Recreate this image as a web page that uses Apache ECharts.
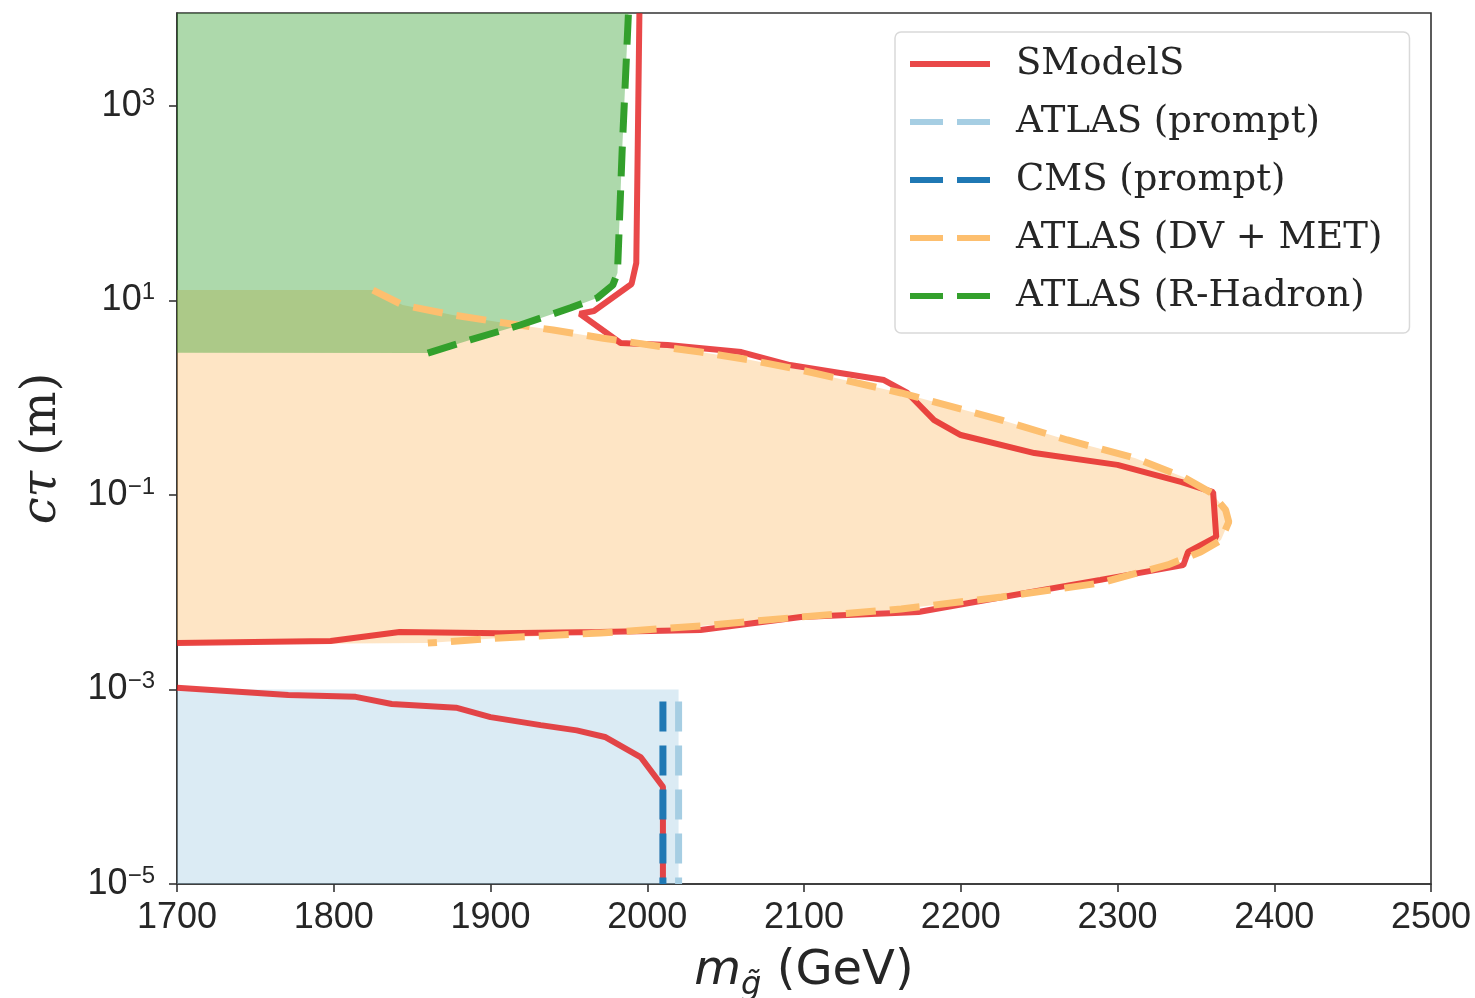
<!DOCTYPE html>
<html>
<head>
<meta charset="utf-8">
<title>Gluino lifetime limits</title>
<script src="https://cdn.jsdelivr.net/npm/echarts@6.0.0/dist/echarts.min.js"></script>
<style>
  html, body { margin: 0; padding: 0; background: #fff; }
  #chart { width: 1475px; height: 998px; }
</style>
</head>
<body>
<div id="chart"></div>
<script>
// ---- data (mass in GeV, c*tau in m) ----
var smodelsUpperMass = [1995, 1993, 1990, 1966, 1957, 1983, 2013, 2060, 2091, 2151, 2166, 2183, 2200, 2247, 2300, 2341, 2361, 2363, 2345, 2342, 2289, 2226, 2173, 2098, 2034, 1970, 1906, 1842, 1798, 1700];
var smodelsUpperCt   = [9000, 24.3, 14.8, 7.8, 7.3, 3.66, 3.49, 2.95, 2.17, 1.52, 1.12, 0.59, 0.414, 0.27, 0.204, 0.136, 0.107, 0.037, 0.026, 0.019, 0.0134, 0.0089, 0.00627, 0.00557, 0.0041, 0.0039, 0.0038, 0.0039, 0.00316, 0.0030];

var smodelsLowerMass = [1700, 1771, 1814, 1837, 1878, 1900, 1932, 1955, 1973, 1996, 2010, 2010];
var smodelsLowerCt   = [1.04e-3, 8.8e-4, 8.4e-4, 7.1e-4, 6.5e-4, 5.2e-4, 4.3e-4, 3.8e-4, 3.25e-4, 2.0e-4, 1.0e-4, 1e-5];

var atlasPromptMass = [2020, 2020];
var atlasPromptCt   = [1e-3, 1e-5];
var cmsPromptMass   = [2010, 2010];
var cmsPromptCt     = [1e-3, 1e-5];

var dvMetMass = [1825, 1844, 1876, 1908, 1940, 1972, 2015, 2034, 2066, 2098, 2162, 2226, 2268, 2311, 2342, 2360, 2369, 2371, 2366, 2353, 2332, 2289, 2226, 2162, 2098, 2034, 1970, 1906, 1860];
var dvMetCt   = [12.8, 9.0, 7.1, 5.9, 4.97, 4.1, 3.25, 2.95, 2.44, 1.93, 1.12, 0.59, 0.368, 0.24, 0.153, 0.105, 0.070, 0.053, 0.0344, 0.0259, 0.0191, 0.01245, 0.00893, 0.00673, 0.00557, 0.0045, 0.00381, 0.00339, 0.0030];

var rHadronMass = [1860, 1887, 1919, 1951, 1968, 1978, 1981, 1984, 1988];
var rHadronCt   = [2.88, 3.93, 5.6, 8.4, 10.6, 14.4, 19.2, 352, 9000];

// excluded areas (closed outlines)
var atlasPromptAreaMass = [1700, 2020, 2020, 1700];
var atlasPromptAreaCt   = [1e-5, 1e-5, 1e-3, 1e-3];
var dvMetAreaMass = [1700].concat(dvMetMass, [1700]);
var dvMetAreaCt   = [12.8].concat(dvMetCt, [0.0029]);
var rHadronAreaMass = [1700].concat(rHadronMass, [1700]);
var rHadronAreaCt   = [2.9].concat(rHadronCt, [9000]);

var legendNames = ['SModelS', 'ATLAS (prompt)', 'CMS (prompt)', 'ATLAS (DV + MET)', 'ATLAS (R-Hadron)'];
var yTickExps = [-5, -3, -1, 1, 3];
var CT_MAX = 9050;

var myChart = echarts.init(document.getElementById('chart'));

function pts(mass, ct) {
    return mass.map(function (m, i) { return [m, Math.log10(ct[i])]; });
}

function area(mass, ct, color) {
    var d = pts(mass, ct);
    return {
        type: 'custom',
        silent: true,
        z: 1,
        data: d,
        renderItem: function (params, api) {
            if (params.dataIndex !== 0) return;
            return {
                type: 'polygon',
                shape: { points: d.map(function (p) { return api.coord(p); }) },
                style: { fill: color }
            };
        }
    };
}

function line(name, mass, ct, color, type, z, offset) {
    return {
        name: name,
        type: 'line',
        data: pts(mass, ct),
        symbol: 'none',
        z: z,
        lineStyle: { color: color, width: type === 'solid' ? 6 : 7, type: type, dashOffset: offset || 0 },
        itemStyle: { color: color }
    };
}

var DASH = [30, 14];
var legendItems = legendNames.map(function (n, i) {
    return { name: n, lineStyle: { width: 6, type: i === 0 ? 'solid' : [33, 14], dashOffset: 0 } };
});

var option = {
    animation: false,
    backgroundColor: '#fff',
    grid: {
        left: 177, right: 44, top: 13, bottom: 114,
        outerBoundsMode: 'none',
        show: true, borderColor: '#333', borderWidth: 1.6, backgroundColor: '#fff'
    },
    legend: {
        data: legendItems,
        orient: 'vertical',
        left: 895, top: 32,
        padding: [10, 27, 15, 12],
        itemGap: 14,
        itemWidth: 80,
        itemHeight: 14,
        itemStyle: { opacity: 0 },
        backgroundColor: 'rgba(255,255,255,0.8)',
        borderColor: '#d9d9d9',
        borderWidth: 1.5,
        borderRadius: 6,
        textStyle: {
            fontFamily: 'DejaVu Serif', fontSize: 37, color: '#262626',
            lineHeight: 44, padding: [0, 0, 0, 21]
        }
    },
    xAxis: {
        type: 'value',
        min: 1700, max: 2500, interval: 100,
        splitLine: { show: false },
        axisLine: { onZero: false, lineStyle: { color: '#333', width: 1.6 } },
        axisTick: { length: 8, lineStyle: { color: '#333', width: 1.6 } },
        axisLabel: {
            fontFamily: 'Liberation Sans', fontSize: 36, color: '#262626', margin: 16,
            formatter: function (v) { return String(v); }
        },
        name: '{m|m}{g|g\u0303}{t| (GeV)}',
        nameLocation: 'middle',
        nameGap: 58,
        nameTextStyle: {
            rich: {
                m: { fontFamily: 'DejaVu Sans', fontStyle: 'italic', fontSize: 48, lineHeight: 60, color: '#262626' },
                g: { fontFamily: 'DejaVu Sans', fontStyle: 'italic', fontSize: 32, lineHeight: 38, verticalAlign: 'bottom', color: '#262626' },
                t: { fontFamily: 'DejaVu Sans', fontSize: 48, lineHeight: 60, color: '#262626' }
            }
        }
    },
    yAxis: {
        type: 'value',
        min: -5, max: Math.log10(CT_MAX),
        splitLine: { show: false },
        axisLine: { onZero: false, lineStyle: { color: '#333', width: 1.6 } },
        axisTick: { length: 8, customValues: yTickExps, lineStyle: { color: '#333', width: 1.6 } },
        axisLabel: {
            customValues: yTickExps,
            margin: 22,
            formatter: function (v) {
                var e = String(Math.round(v)).replace('-', '\u2212');
                return '{b|10}{s|' + e + '}';
            },
            rich: {
                b: { fontFamily: 'Liberation Sans', fontSize: 36, lineHeight: 40, color: '#262626' },
                s: { fontFamily: 'Liberation Sans', fontSize: 24, lineHeight: 26, verticalAlign: 'top', color: '#262626' }
            }
        },
        name: '{i|c\u03c4}{r| (m)}',
        nameLocation: 'middle',
        nameGap: 110,
        nameTextStyle: {
            rich: {
                i: { fontFamily: 'DejaVu Serif', fontStyle: 'italic', fontSize: 48, color: '#262626' },
                r: { fontFamily: 'DejaVu Serif', fontSize: 48, color: '#262626' }
            }
        }
    },
    series: [
        area(atlasPromptAreaMass, atlasPromptAreaCt, 'rgba(166,206,227,0.4)'),
        area(dvMetAreaMass, dvMetAreaCt, 'rgba(253,191,111,0.4)'),
        area(rHadronAreaMass, rHadronAreaCt, 'rgba(51,160,44,0.4)'),
        line('SModelS', smodelsUpperMass, smodelsUpperCt, 'rgba(227,26,28,0.8)', 'solid', 2),
        line('SModelS', smodelsLowerMass, smodelsLowerCt, 'rgba(227,26,28,0.8)', 'solid', 2),
        line('ATLAS (prompt)', atlasPromptMass, atlasPromptCt, '#a6cee3', DASH, 3, 32),
        line('CMS (prompt)', cmsPromptMass, cmsPromptCt, '#1f78b4', DASH, 3, 32),
        line('ATLAS (DV + MET)', dvMetMass, dvMetCt, '#fdbf6f', DASH, 3),
        line('ATLAS (R-Hadron)', rHadronMass, rHadronCt, '#33a02c', DASH, 3)
    ]
};

myChart.setOption(option);
</script>
</body>
</html>
